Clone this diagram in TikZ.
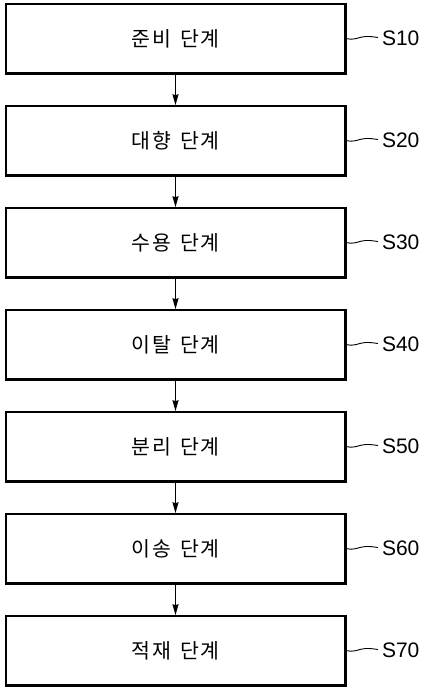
\documentclass[tikz,border=0pt]{standalone}
\usepackage{fontspec}
\setmainfont{Liberation Sans}
\newfontfamily\kr[LetterSpace=10]{Noto Sans CJK KR}
\usetikzlibrary{arrows.meta,calc}
\begin{document}
\begin{tikzpicture}[x=1pt,y=-1pt,
  stepbox/.style={draw,line width=1.6pt,minimum width=339pt,minimum height=69pt,inner sep=0pt,font=\kr\fontsize{20.5}{24}\selectfont},
  lbl/.style={anchor=west,inner sep=0pt,font=\fontsize{21}{24}\selectfont},
  conn/.style={line width=1.2pt,-{Stealth[length=11pt,width=6pt,inset=1pt]}},
  lead/.style={line width=0.9pt}]
\useasboundingbox (0,0) rectangle (431,692);
\foreach \i/\t/\s in {1/준비/S10,2/대향/S20,3/수용/S30,4/이탈/S40,5/분리/S50,6/이송/S60,7/적재/S70}{
  \node[stepbox] (b\i) at (175.5,{38.5+102*(\i-1)}) {\t\hspace{9pt}단계};
  \draw[line width=1.4pt] ($(b\i.north east)+(0.7,0)$) -- ($(b\i.south east)+(0.7,0.7)$) -- ($(b\i.south west)+(0,0.7)$);
  \coordinate (e\i) at ($(b\i.east)+(32,-1)$);
  \node[lbl] (s\i) at ($(b\i.east)+(36,0)$) {\s};
  \draw[lead] (b\i.east) .. controls +(10,2) and +(-10,1) .. ($(b\i.east)+(20,-2)$) .. controls +(5,0) .. (e\i);
}
\foreach \i/\j in {1/2,2/3,3/4,4/5,5/6,6/7}{
  \draw[conn] (b\i.south) -- (b\j.north);
}
\end{tikzpicture}
\end{document}
